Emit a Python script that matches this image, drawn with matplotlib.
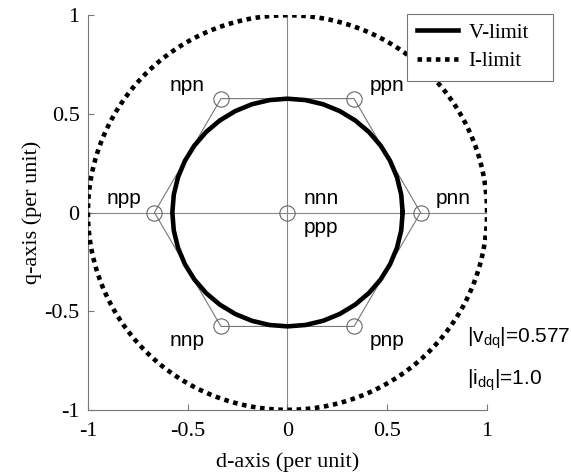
import numpy as np
import matplotlib
matplotlib.use("Agg")
import matplotlib.pyplot as plt

# Switching-state vectors (d, q) and their labels
state_labels = ["pnn", "ppn", "npn", "npp", "nnp", "pnp"]
state_d = [0.6667, 0.3333, -0.3333, -0.6667, -0.3333, 0.3333]
state_q = [0.0, 0.5774, 0.5774, 0.0, -0.5774, -0.5774]
label_d = [0.832, 0.50, -0.504, -0.82, -0.504, 0.50]
label_q = [0.07, 0.645, 0.645, 0.07, -0.648, -0.648]

v_limit = 0.577
i_limit = 1.0
n_poly = 40

serif = ["Liberation Serif", "DejaVu Serif"]
sans = ["Liberation Sans", "DejaVu Sans"]

plt.rcParams["mathtext.fontset"] = "custom"
plt.rcParams["mathtext.rm"] = "Liberation Sans"
plt.rcParams["mathtext.it"] = "Liberation Sans"

fig = plt.figure(figsize=(5.71, 4.76), dpi=100)
ax = fig.add_axes([0.154, 0.139, 0.699, 0.829])

# reference axes through the origin
ax.axhline(0, color="#888888", lw=0.8, zorder=1)
ax.axvline(0, color="#888888", lw=0.8, zorder=1)

# hexagon of active vectors
hx = state_d + [state_d[0]]
hy = state_q + [state_q[0]]
ax.plot(hx, hy, color="#777777", lw=0.8, zorder=2)

th = np.linspace(0, 2 * np.pi, n_poly + 1)
ax.plot(v_limit * np.cos(th), v_limit * np.sin(th), color="black", lw=3.3,
        label="V-limit   ", zorder=3)
th2 = np.linspace(0, 2 * np.pi, 400)
ax.plot(i_limit * np.cos(th2), i_limit * np.sin(th2), color="black", lw=3.3,
        ls=(0, (1, 1)), label="I-limit", zorder=3)

# state markers (including zero vector)
ax.plot(state_d + [0.0], state_q + [0.0], "o", mfc="none", mec="#666666",
        ms=11, mew=0.8, ls="none", zorder=4)

for lab, x, y in zip(state_labels, label_d, label_q):
    ax.text(x, y, lab, ha="center", va="center", fontsize=15, family=sans)
ax.text(0.167, 0.07, "nnn", ha="center", va="center", fontsize=15, family=sans)
ax.text(0.167, -0.076, "ppp", ha="center", va="center", fontsize=15, family=sans)

ax.text(0.897, -0.635, r"$\mathrm{|v_{dq}|}$=0.577", ha="left", va="center",
        fontsize=15, family=sans)
ax.text(0.897, -0.848, r"$\mathrm{|i_{dq}|}$=1.0", ha="left", va="center",
        fontsize=15, family=sans)

ax.set_xlim(-1, 1)
ax.set_ylim(-1, 1)
ticks = [-1, -0.5, 0, 0.5, 1]
tick_labels = ["-1", "-0.5", "0", "0.5", "1"]
ax.set_xticks(ticks)
ax.set_xticklabels(tick_labels, family=serif, fontsize=16)
ax.set_yticks(ticks)
ax.set_yticklabels(tick_labels, family=serif, fontsize=16)
ax.tick_params(direction="in", length=4, color="#777777", width=0.8)
ax.tick_params(axis="x", pad=9)
ax.tick_params(axis="y", pad=6)
for s in ["top", "right"]:
    ax.spines[s].set_visible(False)
for s in ["left", "bottom"]:
    ax.spines[s].set_color("#777777")
    ax.spines[s].set_linewidth(0.8)

ax.set_xlabel("d-axis (per unit)", family=serif, fontsize=16, labelpad=8)
ax.set_ylabel("q-axis (per unit)", family=serif, fontsize=16, labelpad=2)

leg = ax.legend(loc="upper left", bbox_to_anchor=(0.80, 1.004), fancybox=False,
                edgecolor="#777777", framealpha=1, prop={"family": serif, "size": 15},
                handlelength=2.0, borderpad=0.45, labelspacing=0.44, handletextpad=0.5,
                borderaxespad=0)
leg.get_frame().set_linewidth(0.8)

fig.savefig("out.png", dpi=100)
